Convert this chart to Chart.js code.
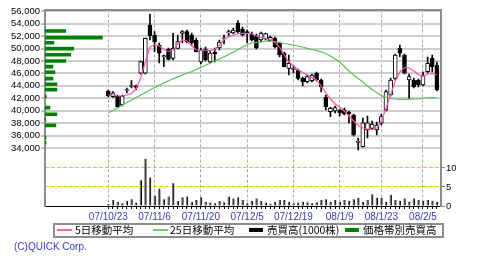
<!DOCTYPE html>
<html>
<head>
<meta charset="utf-8">
<script src="https://cdn.jsdelivr.net/npm/chart.js@4.4.0/dist/chart.umd.min.js"></script>
<style>
  html, body { margin: 0; padding: 0; background: #fff; }
  #wrap { position: relative; width: 480px; height: 261px; overflow: hidden; }
  #wrap canvas { position: absolute; left: 0; top: 0; }
  .lg-box { position: absolute; left: 53px; top: 223px; width: 387px; height: 11px; border: 2px solid #8c8c8c; }
  .lg-mark { position: absolute; }
  .lg-text { position: absolute; top: 223px; line-height: 14px; font-size: 10.5px; color: #000;
             font-family: 'Noto Sans CJK JP', sans-serif; white-space: nowrap; }
  .copy { position: absolute; left: 14px; top: 241px; font: 10px 'Liberation Sans', Arial, sans-serif; color: #3a3acc; }
</style>
</head>
<body>
<div id="wrap">
  <canvas id="stockChart" width="480" height="261"></canvas>
  <canvas id="bandChart" width="480" height="261"></canvas>
  <div class="lg-box"></div>
  <div class="lg-mark" style="left:57px;top:229px;width:15px;height:2px;background:#ff5fae"></div>
  <div class="lg-text" style="left:75px">5日移動平均</div>
  <div class="lg-mark" style="left:153px;top:229px;width:15px;height:2px;background:#6fcf6f"></div>
  <div class="lg-text" style="left:170px">25日移動平均</div>
  <div class="lg-mark" style="left:249px;top:228px;width:14px;height:4px;background:#000"></div>
  <div class="lg-text" style="left:267px">売買高(1000株)</div>
  <div class="lg-mark" style="left:345px;top:228px;width:14px;height:4px;background:#008000"></div>
  <div class="lg-text" style="left:363px">価格帯別売買高</div>
  <div class="copy">(C)QUICK Corp.</div>
</div>
<script>
// date ticks (trading day index -> label)
const tickIdx = [0, 10, 20, 30, 40, 50, 59, 68];
const tickLabels = ['07/10/23', '07/11/6', '07/11/20', '07/12/5', '07/12/19', '08/1/9', '08/1/23', '08/2/5'];

const priceTicks = [34000, 36000, 38000, 40000, 42000, 44000, 46000, 48000, 50000, 52000, 54000, 56000];
const volumeTicks = [0, 5, 10];

// daily candles
const opens = [43170, 42250, 42360, 40910, 43250, 43890, 43970, 46020, 46020, 53790,
    52180, 50570, 48640, 49880, 48430, 50040, 52430, 52720, 52180, 51380,
    47840, 49930, 47840, 49450, 50090, 51540, 52510, 52510, 54070, 53150,
    52720, 52350, 52020, 51380, 51540, 51270, 51650, 50850, 49240, 46820,
    46630, 46550, 45210, 44670, 44830, 46020, 44940, 42200, 39840, 39950,
    40110, 40110, 39790, 39300, 34880, 34200, 36890, 37160, 36890, 37970,
    40110, 42520, 45210, 50040, 48960, 44940, 44940, 44940, 44130, 46280,
    48430, 47350];
const highs = [43330, 43090, 42520, 42520, 43650, 44830, 44130, 48000, 51700, 55570,
    52720, 50900, 48960, 50090, 52460, 52180, 52910, 52990, 52510, 51700,
    50090, 50250, 49610, 50090, 51380, 52180, 52990, 53310, 54490, 53470,
    52990, 52670, 52350, 52670, 52510, 52020, 51860, 51060, 49450, 48960,
    47190, 46710, 45420, 45740, 45910, 46230, 45100, 42520, 40590, 40750,
    40270, 40430, 39950, 39470, 35600, 38820, 39140, 38340, 38180, 39470,
    43330, 45260, 49130, 50570, 49130, 45910, 45260, 45100, 46230, 48640,
    48960, 47840];
const lows = [42200, 42120, 40510, 40750, 42850, 43650, 43330, 45910, 45910, 51380,
    49500, 47680, 47080, 48160, 48160, 49930, 50900, 50900, 50570, 49450,
    47520, 48000, 47680, 47840, 49770, 50740, 52020, 52350, 52510, 52020,
    50900, 51220, 49930, 51060, 51380, 51220, 50090, 48640, 47030, 45740,
    46070, 44940, 43970, 44460, 44620, 44780, 43010, 40110, 39030, 39630,
    39140, 39300, 38020, 35920, 33670, 34150, 35600, 37050, 36080, 37690,
    39950, 42360, 44940, 48690, 45910, 41990, 43650, 43810, 43970, 46070,
    46230, 43170];
const closes = [42360, 42890, 40640, 42360, 43410, 44050, 43730, 47890, 51650, 52020,
    51110, 49240, 48880, 48270, 50040, 51110, 52750, 51110, 50900, 49500,
    49770, 48160, 49290, 49130, 51060, 51700, 52720, 52990, 52720, 52180,
    52460, 51380, 50090, 52510, 52430, 51810, 50300, 48960, 47080, 47630,
    46870, 45210, 44670, 45470, 45740, 44940, 43860, 40590, 40380, 40480,
    39630, 39470, 39470, 36080, 35120, 38060, 38060, 37860, 37690, 39030,
    43060, 44940, 48960, 49240, 46020, 45470, 43860, 44130, 45740, 47630,
    47080, 43330];

// volume (1000 shares)
const volumes = [0.5, 1.6, 1.1, 0.7, 1.4, 1.8, 0.9, 6.8, 12.4, 7.5,
    2.7, 4.6, 1.8, 2.5, 6.0, 1.3, 2.3, 2.5, 1.1, 1.6,
    2.3, 1.1, 0.9, 0.7, 1.3, 1.0, 2.5, 2.0, 2.3, 1.6,
    0.7, 1.3, 2.0, 1.3, 0.9, 0.6, 1.1, 1.6, 1.6, 1.1,
    0.7, 0.9, 1.1, 1.0, 0.7, 1.0, 1.6, 1.8, 1.1, 1.6,
    1.1, 1.6, 1.4, 1.8, 2.2, 1.1, 1.6, 3.1, 2.2, 2.2,
    1.1, 2.9, 1.6, 1.4, 2.0, 1.1, 2.0, 1.6, 1.4, 1.6,
    1.4, 1.1];

// moving averages
const ma5 = [42520, 42520, 42360, 42360, 42520, 42770, 43490, 45260, 47840, 50250,
    50570, 50410, 49850, 49530, 49770, 50740, 51380, 51220, 50490, 49770,
    49690, 49770, 49660, 49850, 50570, 51460, 51860, 52100, 52430, 52460,
    52430, 52350, 52020, 51780, 51650, 51460, 50980, 50250, 48960, 47840,
    47270, 46550, 46150, 45740, 45340, 44940, 43970, 42850, 41880, 41080,
    40590, 39950, 39140, 38340, 37610, 37210, 37050, 36970, 37210, 38340,
    40430, 42520, 44780, 46230, 46950, 46870, 46390, 45830, 45500, 45900,
    45990, 45740];
const ma25 = [39675, 40030, 40430, 40870, 41320, 41720, 42120, 42520, 42930, 43330,
    43730, 44090, 44460, 44830, 45150, 45450, 45740, 46030, 46310, 46630,
    46950, 47310, 47630, 48000, 48320, 48690, 49050, 49420, 49850, 50250,
    50660, 50900, 51010, 51090, 51190, 51220, 51140, 50980, 50820, 50690,
    50570, 50410, 50250, 50040, 49850, 49660, 49480, 49210, 48800, 48320,
    47840, 47110, 46390, 45740, 45180, 44620, 43970, 43410, 42930, 42440,
    42150, 41990, 41880, 41830, 41830, 41850, 41880, 41880, 41960, 42040,
    42090, 41990];

// volume by price band
const bandPrices = [52830, 51750, 50940, 49980, 49010, 48000, 47080, 46180, 45150, 44250,
    43380, 42250, 40480, 39420, 38550, 37640, 35650, 34840];
const bandVolumes = [21, 58, 9, 29, 26, 21, 8, 10, 8, 12,
    12, 1.3, 5, 12, 0.7, 11, 1, 1];

const PRICE_MIN = 24650;
const PRICE_MAX = 56290;

function initStockChart() {
    Chart.defaults.font.family = "'Liberation Sans', Arial, sans-serif";
    const numFont = { size: 9.5 };

    // main chart: candles, moving averages, volume
    const ctx = document.getElementById('stockChart');
    if (ctx) {
        new Chart(ctx.getContext('2d'), {
            data: {
                datasets: [
                    {
                        type: 'line',
                        label: '5日移動平均',
                        data: ma5.map((v, i) => ({ x: i, y: v })),
                        borderColor: '#ff4fa7',
                        borderWidth: 1.2,
                        pointRadius: 0,
                        order: 0
                    },
                    {
                        type: 'line',
                        label: '25日移動平均',
                        data: ma25.map((v, i) => ({ x: i, y: v })),
                        borderColor: '#55c255',
                        borderWidth: 1.2,
                        pointRadius: 0,
                        order: 0
                    },
                    {
                        type: 'bar',
                        label: 'body',
                        data: opens.map((o, i) => ({ x: i, y: [o, closes[i]] })),
                        backgroundColor: opens.map((o, i) => closes[i] >= o ? '#fff' : '#000'),
                        borderColor: '#000',
                        borderWidth: 1,
                        borderSkipped: false,
                        barThickness: 4,
                        grouped: false,
                        order: 1
                    },
                    {
                        type: 'bar',
                        label: 'wick',
                        data: lows.map((l, i) => ({ x: i, y: [l, highs[i]] })),
                        backgroundColor: '#000',
                        barThickness: 1,
                        grouped: false,
                        order: 2
                    },
                    {
                        type: 'bar',
                        label: '売買高(1000株)',
                        data: volumes.map((v, i) => ({ x: i, y: v })),
                        yAxisID: 'yv',
                        backgroundColor: '#6e6e6e',
                        borderColor: '#000',
                        borderWidth: { left: 0, right: 1, top: 0, bottom: 0 },
                        barThickness: 2,
                        grouped: false,
                        order: 3
                    }
                ]
            },
            options: {
                responsive: false,
                animation: false,
                events: [],
                layout: { padding: { top: 9.5 } },
                plugins: {
                    legend: { display: false },
                    tooltip: { enabled: false }
                },
                scales: {
                    x: {
                        type: 'linear',
                        position: 'bottom',
                        min: -13.68,
                        max: 71.89,
                        offset: false,
                        afterBuildTicks: axis => { axis.ticks = opens.map((_, i) => ({ value: i })); },
                        afterFit: axis => { axis.height = 55; },
                        ticks: {
                            autoSkip: false,
                            maxRotation: 0,
                            padding: 2,
                            color: '#3b3bb4',
                            font: { size: 10 },
                            callback: v => {
                                const k = tickIdx.indexOf(v);
                                return k >= 0 ? tickLabels[k] : '';
                            }
                        },
                        grid: {
                            offset: false,
                            color: c => (c.tick && tickIdx.includes(c.tick.value)) ? '#a8a8a8' : 'rgba(0,0,0,0)',
                            tickColor: '#000',
                            tickLength: 3,
                            lineWidth: 1
                        },
                        border: { color: '#000', width: 1, dash: [3, 2] }
                    },
                    xTop: {
                        type: 'linear',
                        position: 'top',
                        min: -13.68,
                        max: 71.89,
                        ticks: { display: false },
                        grid: { display: false, drawTicks: false },
                        border: { color: '#8c8c8c', width: 2 }
                    },
                    y: {
                        type: 'linear',
                        position: 'left',
                        min: PRICE_MIN,
                        max: PRICE_MAX,
                        offset: false,
                        afterBuildTicks: axis => { axis.ticks = priceTicks.map(v => ({ value: v })); },
                        afterFit: axis => { axis.width = 45; },
                        ticks: {
                            autoSkip: false,
                            padding: 1,
                            color: '#000',
                            font: numFont,
                            callback: v => v.toLocaleString('en-US')
                        },
                        grid: {
                            offset: false,
                            color: '#cdcdcd',
                            lineWidth: 2,
                            tickColor: '#808080',
                            tickWidth: 1,
                            tickLength: 4
                        },
                        border: { color: '#8c8c8c', width: 2 }
                    },
                    yv: {
                        type: 'linear',
                        position: 'right',
                        min: 0,
                        max: 51.7,
                        offset: false,
                        afterBuildTicks: axis => { axis.ticks = volumeTicks.map(v => ({ value: v })); },
                        afterFit: axis => { axis.width = 39; },
                        ticks: {
                            autoSkip: false,
                            padding: 1,
                            color: '#000',
                            font: numFont
                        },
                        grid: {
                            offset: false,
                            color: '#f5c400',
                            lineWidth: 1,
                            tickColor: '#808080',
                            tickLength: 4
                        },
                        border: { color: '#8c8c8c', width: 2, dash: [4, 2] }
                    }
                }
            }
        });
    }

    // overlay: volume by price band (horizontal bars from the left edge)
    const bandCtx = document.getElementById('bandChart');
    if (bandCtx) {
        new Chart(bandCtx.getContext('2d'), {
            type: 'bar',
            data: {
                datasets: [
                    {
                        label: '価格帯別売買高',
                        data: bandPrices.map((p, i) => ({ x: bandVolumes[i], y: p })),
                        backgroundColor: '#008000',
                        barThickness: 3
                    }
                ]
            },
            options: {
                indexAxis: 'y',
                responsive: false,
                animation: false,
                events: [],
                layout: { padding: { top: 9.5, left: 45, right: 39, bottom: 55 } },
                plugins: {
                    legend: { display: false },
                    tooltip: { enabled: false }
                },
                scales: {
                    x: { type: 'linear', display: false, min: 0, max: 400 },
                    y: { type: 'linear', display: false, min: PRICE_MIN, max: PRICE_MAX, offset: false }
                }
            }
        });
    }
}

document.addEventListener('DOMContentLoaded', initStockChart);
</script>
</body>
</html>
